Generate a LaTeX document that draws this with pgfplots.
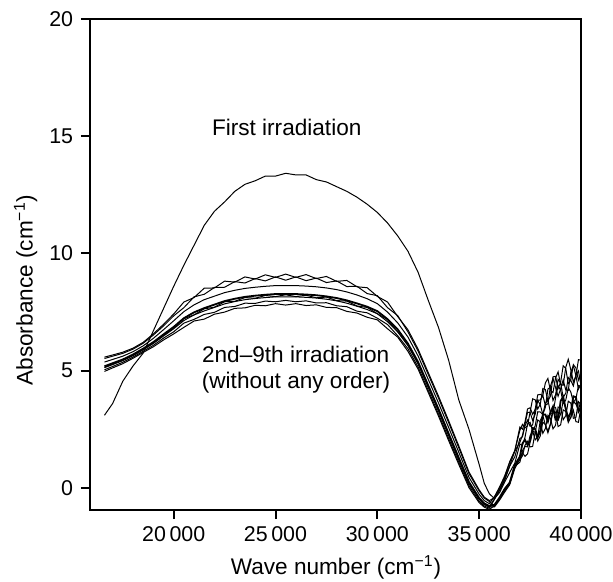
\documentclass[border=0pt]{standalone}
\usepackage{fontspec}
\setmainfont{Liberation Sans}
\usepackage{pgfplots}
\pgfplotsset{compat=1.18}
\usepackage{pgfplotstable}
\usetikzlibrary{calc}
\pgfplotstableread{
x f c1 c2 c3 c4 c5 c6 c7 c8
16600 3.10 5.58 5.52 5.37 5.19 5.15 5.13 5.04 4.97
17000 3.60 5.67 5.62 5.48 5.32 5.29 5.26 5.18 5.12
17500 4.55 5.79 5.74 5.62 5.48 5.45 5.43 5.36 5.30
18000 5.20 5.96 5.92 5.81 5.69 5.66 5.64 5.58 5.53
18500 5.75 6.21 6.17 6.06 5.94 5.91 5.89 5.83 5.78
19000 6.70 6.57 6.52 6.38 6.22 6.19 6.16 6.08 6.02
19500 7.65 6.98 6.91 6.75 6.55 6.51 6.48 6.39 6.31
20000 8.60 7.42 7.34 7.13 6.87 6.82 6.79 6.66 6.57
20500 9.50 7.93 7.69 7.52 7.24 7.22 7.14 7.03 6.85
21000 10.35 8.12 8.15 7.81 7.49 7.38 7.38 7.19 7.12
21500 11.20 8.52 8.26 8.03 7.67 7.64 7.55 7.40 7.20
22000 11.80 8.53 8.55 8.18 7.82 7.71 7.70 7.49 7.41
22500 12.20 8.82 8.56 8.33 7.97 7.94 7.85 7.70 7.50
23000 12.65 8.78 8.80 8.43 8.07 7.96 7.95 7.74 7.66
23500 12.95 9.00 8.74 8.51 8.15 8.12 8.03 7.88 7.68
24000 13.10 8.91 8.93 8.56 8.20 8.09 8.08 7.87 7.79
24500 13.30 9.09 8.83 8.60 8.24 8.21 8.12 7.97 7.77
25000 13.30 8.98 9.00 8.63 8.27 8.16 8.15 7.94 7.86
25500 13.42 9.12 8.86 8.63 8.27 8.24 8.15 8.00 7.80
26000 13.35 8.98 9.00 8.63 8.27 8.16 8.15 7.94 7.86
26500 13.35 9.10 8.84 8.61 8.25 8.22 8.13 7.98 7.78
27000 13.15 8.93 8.95 8.58 8.22 8.11 8.10 7.89 7.81
27500 13.05 9.02 8.76 8.53 8.17 8.14 8.05 7.90 7.70
28000 12.85 8.81 8.83 8.46 8.10 7.99 7.98 7.77 7.69
28500 12.65 8.85 8.59 8.36 8.00 7.97 7.88 7.73 7.53
29000 12.40 8.58 8.60 8.23 7.87 7.76 7.75 7.54 7.46
29500 12.10 8.54 8.29 8.07 7.73 7.70 7.61 7.47 7.28
30000 11.75 8.17 8.20 7.86 7.54 7.43 7.43 7.24 7.17
30500 11.30 7.93 7.69 7.50 7.20 7.18 7.09 6.97 6.79
31000 10.75 7.31 7.35 7.04 6.76 6.66 6.66 6.49 6.43
31500 10.10 6.75 6.66 6.44 6.16 6.11 6.07 5.94 5.83
32000 9.20 5.92 5.84 5.63 5.37 5.32 5.29 5.16 5.07
32500 8.00 4.92 4.84 4.63 4.37 4.32 4.29 4.16 4.07
33000 6.85 3.92 3.84 3.63 3.37 3.32 3.29 3.16 3.07
33500 5.45 2.87 2.79 2.58 2.32 2.27 2.24 2.11 2.02
34000 3.75 1.79 1.71 1.52 1.28 1.24 1.20 1.09 1.00
34500 2.50 0.68 0.61 0.45 0.25 0.21 0.18 0.09 0.01
35000 1.00 -0.08 -0.13 -0.27 -0.43 -0.46 -0.49 -0.57 -0.63
35250 0.20 -0.39 -0.43 -0.54 -0.66 -0.69 -0.71 -0.77 -0.82
35500 -0.25 -0.54 -0.58 -0.67 -0.77 -0.80 -0.81 -0.86 -0.91
35750 -0.45 -0.41 -0.78 -0.37 -0.72 -0.46 -0.81 -0.49 -0.76
36000 -0.20 0.00 -0.48 0.04 -0.41 -0.07 -0.52 -0.11 -0.45
36250 0.25 0.45 -0.13 0.51 -0.04 0.37 -0.18 0.32 -0.10
36500 0.66 1.11 0.18 1.11 0.23 0.96 0.14 0.93 0.22
36750 1.06 1.59 0.93 1.59 0.98 1.57 0.83 1.33 0.92
37000 1.87 2.46 1.21 2.60 1.34 1.95 1.25 2.11 1.10
37125 1.82 2.71 1.37 2.51 1.90 2.24 1.50 2.18 1.59
37250 2.16 2.56 1.82 2.81 2.05 2.73 1.35 2.65 1.77
37375 2.73 2.65 1.99 3.37 1.83 3.23 1.45 2.89 1.75
37500 2.80 3.24 1.75 3.42 2.01 3.22 1.94 2.63 2.23
37625 2.43 3.80 1.77 3.14 2.56 2.88 2.41 2.69 2.44
37750 2.65 3.76 2.38 3.35 2.51 3.14 2.38 3.34 2.05
37875 3.25 3.37 2.90 3.97 2.17 3.75 2.00 3.74 2.17
38000 3.24 3.57 2.82 3.99 2.43 3.75 2.22 3.54 2.88
38125 3.13 4.24 2.33 3.94 3.13 3.94 2.81 3.14 3.09
38250 3.61 4.20 2.53 4.48 3.13 3.53 2.70 3.44 2.69
38375 3.76 3.71 3.10 4.67 2.83 3.59 2.35 4.22 2.42
38500 3.20 3.92 2.97 4.15 3.23 4.35 2.70 4.29 2.75
38625 3.17 4.74 2.52 4.07 3.47 4.67 3.27 3.73 3.45
38750 3.84 4.76 2.67 4.69 2.91 4.28 3.24 3.97 3.44
38875 4.36 4.24 3.45 4.95 2.91 3.91 2.62 4.63 2.90
39000 4.17 4.51 3.43 4.41 3.71 4.23 2.69 4.48 3.15
39125 3.61 5.21 2.91 4.38 3.89 4.61 3.33 3.86 3.70
39250 3.74 5.10 3.08 5.14 3.37 4.18 3.26 4.04 3.44
39375 4.27 4.45 3.70 5.49 2.96 4.16 2.79 4.71 2.87
39500 4.09 4.60 3.62 5.04 3.24 4.94 3.01 4.58 2.99
39625 3.65 5.26 2.97 4.51 3.91 5.22 3.32 4.35 3.69
39750 3.80 5.12 3.01 4.78 3.87 4.79 2.83 4.81 3.58
39875 4.37 4.60 3.68 5.47 3.26 4.22 2.80 4.99 3.32
40000 4.33 4.88 3.55 5.45 3.45 4.44 3.47 4.36 3.76
}\spec
\begin{document}
\fontsize{11.3bp}{13.5bp}\selectfont
\begin{tikzpicture}
\begin{axis}[
  scale only axis,
  width=245.5bp, height=245.5bp,
  xmin=15890, xmax=40000, ymin=-0.94, ymax=20,
  scaled x ticks=false, scaled y ticks=false,
  xtick={20000,25000,30000,35000,40000},
  xticklabels={20\,000,25\,000,30\,000,35\,000,40\,000},
  ytick={0,5,10,15,20},
  yticklabels={0,5,10,15,20},
  tick label style={font=\fontsize{10.7bp}{12bp}\selectfont},
  tick align=outside,
  xtick pos=bottom, ytick pos=left,
  major tick length=4.5bp,
  axis line style={line width=1bp},
  tick style={line width=1bp, black},
  xlabel={Wave number (cm\textsuperscript{−1})},
  ylabel={Absorbance (cm\textsuperscript{−1})},
  xlabel style={at={(axis description cs:0.501,-0.116)}, anchor=center},
  ylabel style={at={(axis description cs:-0.131,0.448)}, anchor=center},
  cycle list={{black,solid}},
  every axis plot/.append style={no markers, line width=0.5bp},
]
\addplot table[x=x,y=f]{\spec};
\addplot table[x=x,y=c1]{\spec};
\addplot table[x=x,y=c2]{\spec};
\addplot table[x=x,y=c3]{\spec};
\addplot+[line width=0.9bp] table[x=x,y=c4]{\spec};
\addplot table[x=x,y=c5]{\spec};
\addplot table[x=x,y=c6]{\spec};
\addplot table[x=x,y=c7]{\spec};
\addplot table[x=x,y=c8]{\spec};
\node[anchor=base] at (axis cs:25550,15.05) {First irradiation};
\node[anchor=base] at (axis cs:25990,5.33) {2nd–9th irradiation};
\node[anchor=base] at (axis cs:26010,4.26) {(without any order)};
\end{axis}
\pgfresetboundingbox
\path ($(current axis.south west)+(-45bp,-36bp)$) rectangle ($(current axis.north east)+(16bp,9.5bp)$);
\end{tikzpicture}
\end{document}
